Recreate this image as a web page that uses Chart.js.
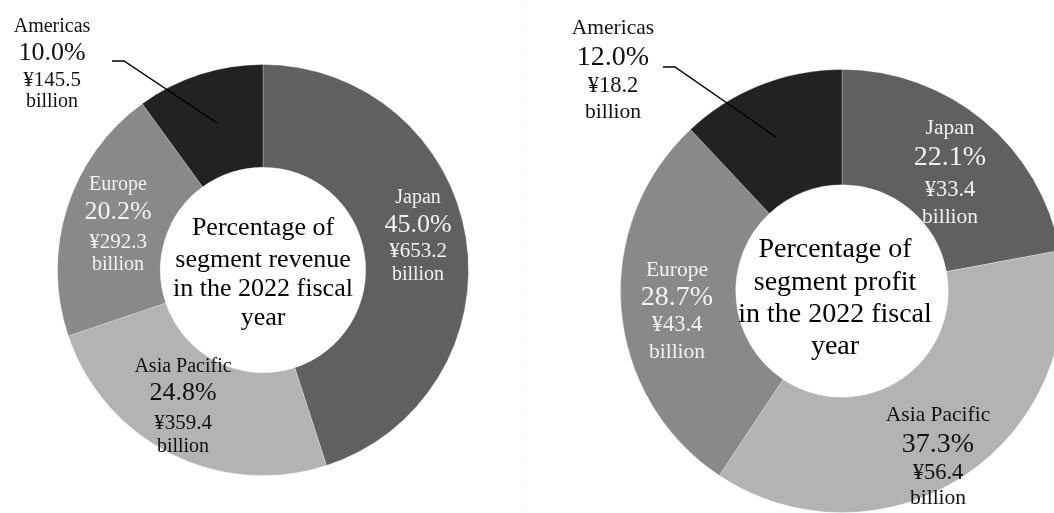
<!DOCTYPE html>
<html>
<head>
<meta charset="utf-8">
<script src="https://cdn.jsdelivr.net/npm/chart.js@4/dist/chart.umd.min.js"></script>
<style>
  html, body { margin:0; padding:0; background:#fff; width:1054px; height:513px; overflow:hidden; position:relative; }
  canvas { position:absolute; top:0; }
</style>
</head>
<body>
<canvas id="c1" width="527" height="513" style="left:0px;width:527px;height:513px"></canvas>
<canvas id="c2" width="547" height="513" style="left:520px;width:547px;height:513px"></canvas>
<script>
// ---- data ----
const regions = ['Japan', 'Asia Pacific', 'Europe', 'Americas'];
const revenueShare = [45.0, 24.8, 20.2, 10.0];
const revenueAmount = [653.2, 359.4, 292.3, 145.5];
const profitShare = [22.1, 37.3, 28.7, 12.0];
const profitAmount = [33.4, 56.4, 43.4, 18.2];
const revenueTitle = ['Percentage of', 'segment revenue', 'in the 2022 fiscal', 'year'];
const profitTitle = ['Percentage of', 'segment profit', 'in the 2022 fiscal', 'year'];

// ---- styling / layout ----
const segColors = ['#606060', '#b3b3b3', '#898989', '#222222'];
const labelColors = ['#f2f2f2', '#111111', '#f2f2f2', '#111111'];
const FONT = '"Liberation Serif", "Times New Roman", serif';

const leftLayout = {
  canvasLeft: 0,
  padding: { left: 57, top: 64, right: 58, bottom: 37 },
  cutout: '50%',
  small: 20, pct: 26, center: 26,
  labels: [
    { x: 418, ys: [198, 225, 251, 275] },
    { x: 183, ys: [367, 393, 423, 447] },
    { x: 118, ys: [185, 212, 242, 265] },
    { x: 52,  ys: [27, 53, 80, 102] }
  ],
  centerPos: { x: 263, ys: [228, 260, 289, 318] },
  leader: [[112, 61], [124, 61], [217, 123]],
  share: revenueShare, amount: revenueAmount, title: revenueTitle
};
const rightLayout = {
  canvasLeft: 520,
  padding: { left: 100, top: 69, right: 3, bottom: 0 },
  cutout: '48%',
  small: 21.5, pct: 28, center: 28,
  labels: [
    { x: 950, ys: [128, 158, 190, 217] },
    { x: 938, ys: [415, 445, 473, 498] },
    { x: 677, ys: [270, 298, 325, 352] },
    { x: 613, ys: [28, 58, 86, 112] }
  ],
  centerPos: { x: 835, ys: [250, 283, 315, 347] },
  leader: [[663, 67], [675, 67], [776, 137]],
  share: profitShare, amount: profitAmount, title: profitTitle,
  divider: 525
};

function textPlugin(L) {
  return {
    id: 'labels',
    afterDraw(chart) {
      const ctx = chart.ctx;
      const ox = L.canvasLeft;
      ctx.save();
      if (L.divider !== undefined) {
        ctx.strokeStyle = '#e4e4e4';
        ctx.lineWidth = 1;
        ctx.setLineDash([1, 5]);
        ctx.beginPath();
        ctx.moveTo(L.divider - ox + 0.5, 0);
        ctx.lineTo(L.divider - ox + 0.5, 513);
        ctx.stroke();
        ctx.setLineDash([]);
      }
      ctx.textAlign = 'center';
      ctx.textBaseline = 'middle';
      regions.forEach((r, i) => {
        const p = L.labels[i];
        const lines = [r, L.share[i].toFixed(1) + '%', '¥' + L.amount[i].toFixed(1), 'billion'];
        const sizes = [L.small, L.pct, L.small + 1, L.small];
        ctx.fillStyle = labelColors[i];
        lines.forEach((t, k) => {
          ctx.font = sizes[k] + 'px ' + FONT;
          ctx.fillText(t, p.x - ox, p.ys[k]);
        });
      });
      ctx.fillStyle = '#000';
      ctx.font = L.center + 'px ' + FONT;
      L.title.forEach((t, k) => ctx.fillText(t, L.centerPos.x - ox, L.centerPos.ys[k]));
      ctx.strokeStyle = '#000';
      ctx.lineWidth = 1.5;
      ctx.beginPath();
      L.leader.forEach((pt, k) => {
        if (k === 0) ctx.moveTo(pt[0] - ox, pt[1]); else ctx.lineTo(pt[0] - ox, pt[1]);
      });
      ctx.stroke();
      ctx.restore();
    }
  };
}

function makeChart(id, L) {
  return new Chart(document.getElementById(id), {
    type: 'doughnut',
    data: {
      labels: regions,
      datasets: [{
        data: L.share,
        backgroundColor: segColors,
        borderColor: 'rgba(255,255,255,0.25)',
        borderWidth: 1
      }]
    },
    options: {
      responsive: false,
      maintainAspectRatio: false,
      animation: false,
      cutout: L.cutout,
      rotation: 0,
      layout: { padding: L.padding },
      plugins: { legend: { display: false }, tooltip: { enabled: false } }
    },
    plugins: [textPlugin(L)]
  });
}

makeChart('c1', leftLayout);
makeChart('c2', rightLayout);
</script>
</body>
</html>
